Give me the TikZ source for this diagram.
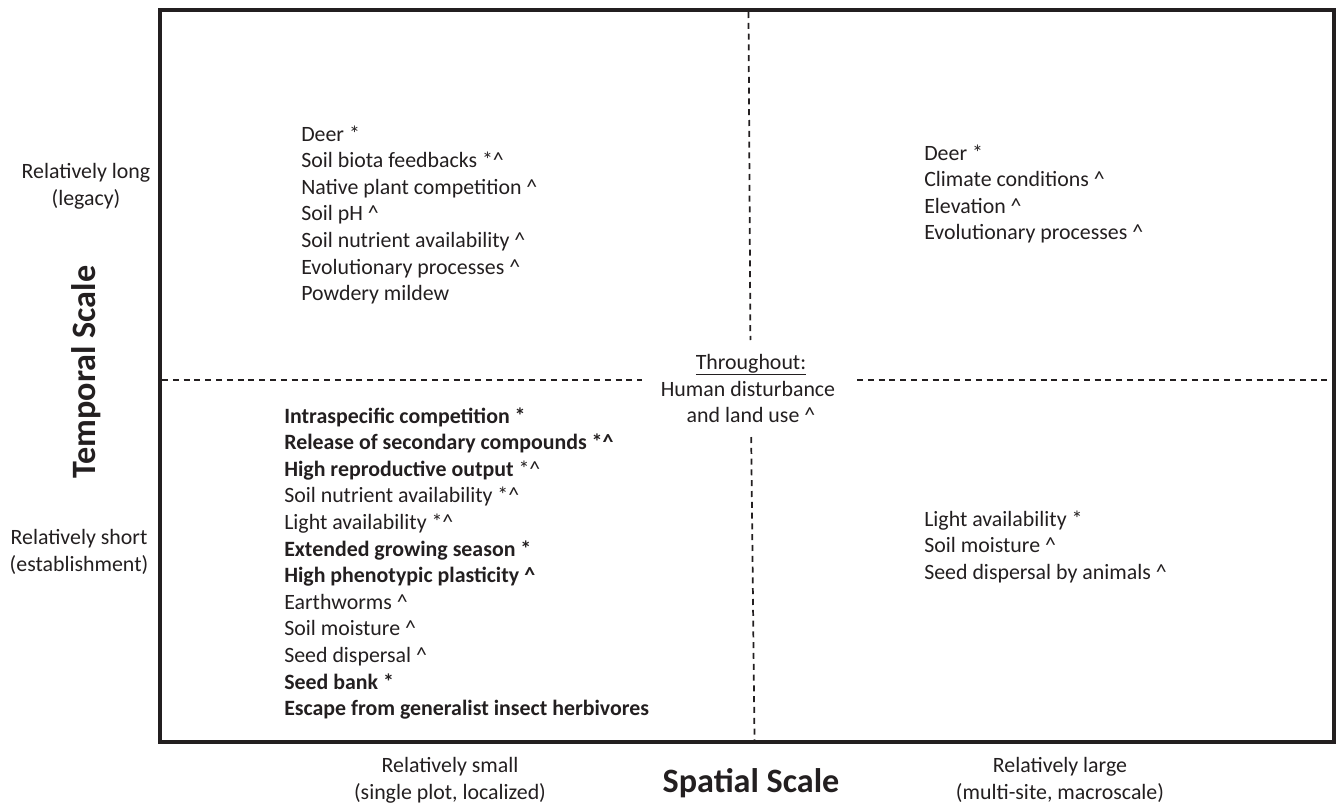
\documentclass[tikz,border=0pt]{standalone}
\usepackage{fontspec}
\setmainfont{Carlito}
\newcommand{\crt}{\textasciicircum}
\definecolor{ink}{HTML}{231F20}
\begin{document}
\begin{tikzpicture}[x=0.75pt,y=-0.75pt,
  every node/.style={text=ink},
  item/.style={anchor=base west,inner sep=0pt,font=\fontsize{16.4}{20}\selectfont},
  lab/.style={align=center,inner sep=0pt,font=\fontsize{16.4}{20}\selectfont},
  axis/.style={inner sep=0pt,font=\fontsize{25.6}{30}\selectfont\bfseries},
  frame/.style={line width=3pt,draw=ink},
  divider/.style={line width=1.3pt,dash pattern=on 4.5pt off 3.6pt,draw=ink}]
\useasboundingbox (0,0) rectangle (1336,803);
\draw[frame] (160,10) rectangle (1334,742);
% dividers
\coordinate (vt) at (748.5,12);
\coordinate (vm1) at (750.4,340);
\coordinate (vm2) at (751.2,437);
\coordinate (vb) at (754.5,740);
\coordinate (hl) at (162,380);
\coordinate (hm1) at (642,380);
\coordinate (hm2) at (857,380);
\coordinate (hr) at (1332,380);
\draw[divider] (vt) -- (vm1);
\draw[divider] (vm2) -- (vb);
\draw[divider] (hl) -- (hm1);
\draw[divider] (hm2) -- (hr);
% top-left
\foreach \t [count=\i] in {{Deer *},{Soil biota feedbacks *\crt},{Native plant competition \crt},{Soil pH \crt},{Soil nutrient availability \crt},{Evolutionary processes \crt},{Powdery mildew}}
  \node[item] (tl\i) at (301,{141+(\i-1)*26.65}) {\t};
% top-right
\foreach \t [count=\i] in {{Deer *},{Climate conditions \crt},{Elevation \crt},{Evolutionary processes \crt}}
  \node[item] (tr\i) at (924,{160+(\i-1)*26.5}) {\t};
% bottom-left
\foreach \t [count=\i] in {{\textbf{Intraspecific competition *}},{\textbf{Release of secondary compounds *\crt}},{\textbf{High reproductive output} *\crt},{Soil nutrient availability *\crt},{Light availability *\crt},{\textbf{Extended growing season *}},{\textbf{High phenotypic plasticity \crt}},{Earthworms \crt},{Soil moisture \crt},{Seed dispersal \crt},{\textbf{Seed bank *}},{\textbf{Escape from generalist insect herbivores}}}
  \node[item] (bl\i) at (284,{423+(\i-1)*26.6}) {\t};
% bottom-right
\foreach \t [count=\i] in {{Light availability *},{Soil moisture \crt},{Seed dispersal by animals \crt}}
  \node[item] (br\i) at (924,{526+(\i-1)*26.5}) {\t};
% centre
\node[lab,anchor=base] (thr) at (751,369) {\underline{Throughout:}};
\node[lab,anchor=base] (hum) at (748,396) {Human disturbance};
\node[lab,anchor=base] (land) at (751,422) {and land use \crt};
% axis labels
\node[lab] (long) at (86,186) {Relatively long\\(legacy)};
\node[lab] (short) at (79,552) {Relatively short\\(establishment)};
\node[axis,rotate=90] (temp) at (86,372) {Temporal Scale};
\node[lab] (small) at (450,780) {Relatively small\\(single plot, localized)};
\node[lab] (large) at (1060,780) {Relatively large\\(multi-site, macroscale)};
\node[axis] (spat) at (751,783) {Spatial Scale};
\end{tikzpicture}
\end{document}
